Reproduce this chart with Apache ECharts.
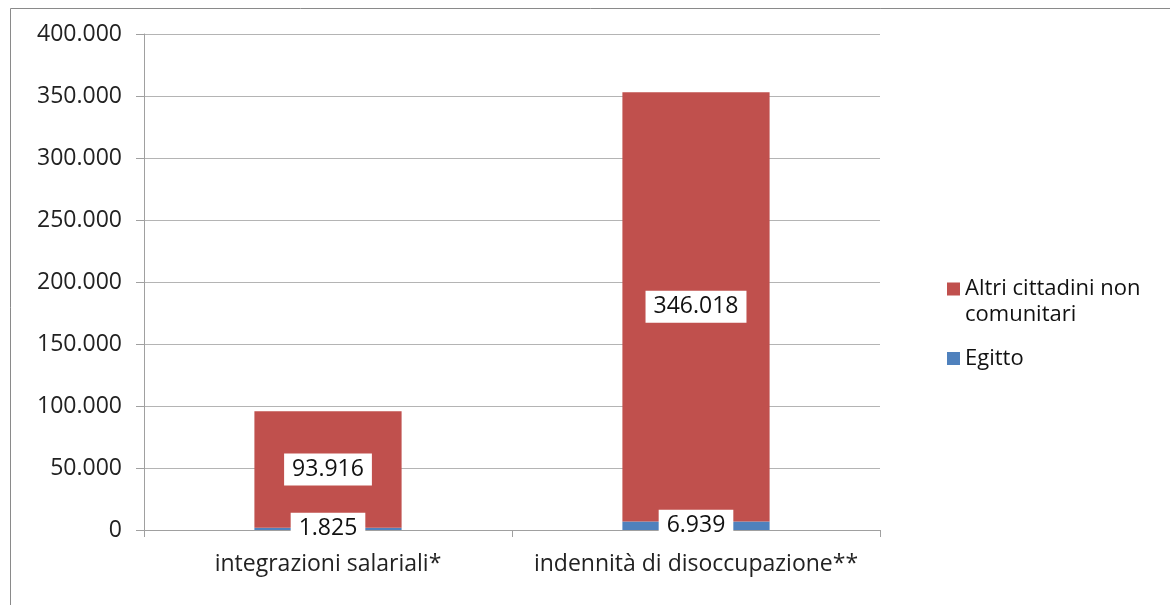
<!DOCTYPE html>
<html><head><meta charset="utf-8">
<script src="https://cdn.jsdelivr.net/npm/echarts@6/dist/echarts.min.js"></script>
<style>html,body{margin:0;padding:0;background:#fff}#c{width:1170px;height:605px}</style>
</head><body><div id="c"></div>
<script>
const categories = ['integrazioni salariali*', 'indennità di disoccupazione**'];
const egitto = [1825, 6939];
const altri = [93916, 346018];
const yTicks = [0, 50000, 100000, 150000, 200000, 250000, 300000, 350000, 400000];

function fmt(v){ return String(v).replace(/\B(?=(\d{3})+(?!\d))/g, '.'); }
const font = 'Open Sans';
const chart = echarts.init(document.getElementById('c'));
const lbl = {
  show: true, position: 'inside', formatter: p => fmt(p.value),
  color: '#111', fontSize: 23, fontFamily: font,
  backgroundColor: '#fff', padding: [5, 8, 4, 8]
};
const altriName = 'Altri cittadini non\ncomunitari';
const pad = ' M0,0L0.001,0L0,0.001Z M0,39L0.001,39L0,39.001Z';
chart.setOption({
  animation: false,
  graphic: [{type: 'rect', shape: {x: 10.5, y: 8.5, width: 1300, height: 800}, style: {fill: 'none', stroke: '#8a8a8a', lineWidth: 1}, silent: true, z: -10}],
  grid: {left: 144, right: 290, top: 34, bottom: 75, containLabel: false},
  legend: {
    orient: 'vertical', left: 942, top: 271, itemWidth: 13, itemHeight: 39, itemGap: 11,
    data: [
      {name: altriName, icon: 'path://M0,0H13V13H0Z' + pad},
      {name: 'Egitto', icon: 'path://M0,13H13V26H0Z' + pad}
    ],
    textStyle: {fontSize: 22, fontFamily: font, color: '#111', lineHeight: 26}
  },
  xAxis: {
    type: 'category', data: categories,
    axisLine: {lineStyle: {color: '#a0a0a0'}},
    axisTick: {show: true, length: 7, lineStyle: {color: '#a0a0a0'}},
    axisLabel: {fontSize: 23, fontFamily: font, color: '#222', margin: 23, interval: 0}
  },
  yAxis: {
    type: 'value', min: 0, max: 400000, interval: 50000,
    axisLine: {show: true, lineStyle: {color: '#a0a0a0'}},
    axisTick: {show: true, length: 8, lineStyle: {color: '#a0a0a0'}},
    splitLine: {lineStyle: {color: '#b4b4b4'}},
    axisLabel: {fontSize: 23, fontFamily: font, color: '#222', margin: 22,
      formatter: v => yTicks.includes(v) ? fmt(v) : ''}
  },
  series: [
    {name: 'Egitto', type: 'bar', stack: 's', data: egitto, barWidth: '40%',
     itemStyle: {color: '#4F81BD'}, label: lbl},
    {name: altriName, type: 'bar', stack: 's', data: altri, barWidth: '40%',
     itemStyle: {color: '#C0504D'}, label: lbl}
  ]
});
</script></body></html>
